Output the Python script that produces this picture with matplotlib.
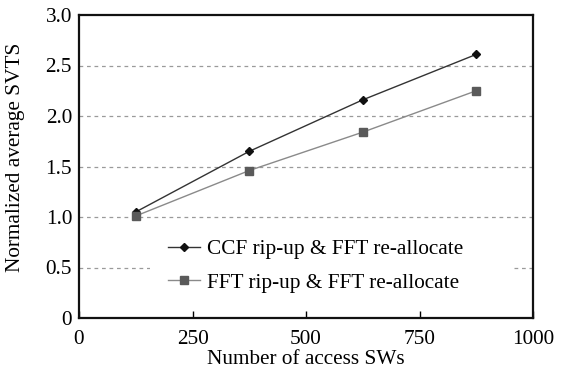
import matplotlib
matplotlib.use("Agg")
import matplotlib.pyplot as plt
from matplotlib.patches import Rectangle

# Number of access switches and normalized average SVTS per strategy
access_sws = [125, 375, 625, 875]
ccf_ripup = [1.05, 1.65, 2.16, 2.61]
fft_ripup = [1.01, 1.46, 1.84, 2.25]
series_labels = ["CCF rip-up & FFT re-allocate", "FFT rip-up & FFT re-allocate"]
x_ticks = [0, 250, 500, 750, 1000]
y_ticks = [0, 0.5, 1.0, 1.5, 2.0, 2.5, 3.0]
y_tick_labels = ["0", "0.5", "1.0", "1.5", "2.0", "2.5", "3.0"]

plt.rcParams["font.family"] = ["Liberation Serif", "DejaVu Serif"]
FS = 15.3

fig = plt.figure(figsize=(5.65, 3.7), dpi=100)
ax = fig.add_axes([79 / 565, 52 / 370, (533 - 79) / 565, (318 - 15) / 370])

for yv in y_ticks[1:-1]:
    ax.axhline(yv, color="#9a9a9a", lw=0.9, ls=(0, (3, 3)), zorder=1)

ax.plot(access_sws, ccf_ripup, color="#333333", lw=1.0, marker="D",
        ms=4.5, mfc="#111111", mec="#111111", label=series_labels[0], zorder=3)
ax.plot(access_sws, fft_ripup, color="#8a8a8a", lw=1.0, marker="s",
        ms=5.5, mfc="#5a5a5a", mec="#5a5a5a", label=series_labels[1], zorder=3)

ax.set_xlim(0, 1000)
ax.set_ylim(0, 3.0)
ax.set_xticks(x_ticks)
ax.set_yticks(y_ticks)
ax.set_yticklabels(y_tick_labels)
ax.tick_params(axis="x", direction="in", length=5, width=1, labelsize=FS, pad=9)
ax.tick_params(axis="y", length=0, labelsize=FS, pad=5)
for s in ax.spines.values():
    s.set_linewidth(1.6)
    s.set_color("#111111")

ax.set_xlabel("Number of access SWs", fontsize=FS)
ax.xaxis.set_label_coords(0.5, -0.104)
ax.set_ylabel("Normalized average SVTS", fontsize=FS)
ax.yaxis.set_label_coords(-0.118, 0.53)

# white panel behind the legend, hiding the grid there
ax.add_patch(Rectangle((0.156, 0.05), 0.80, 0.23, transform=ax.transAxes,
                       facecolor="white", edgecolor="none", zorder=4))

leg = ax.legend(loc="center left", bbox_to_anchor=(0.196, 0.172),
                frameon=False, fontsize=FS, handlelength=1.5,
                handletextpad=0.35, labelspacing=0.65, borderpad=0,
                borderaxespad=0)
leg.set_zorder(5)

fig.savefig("out.png", dpi=100, facecolor="white")
